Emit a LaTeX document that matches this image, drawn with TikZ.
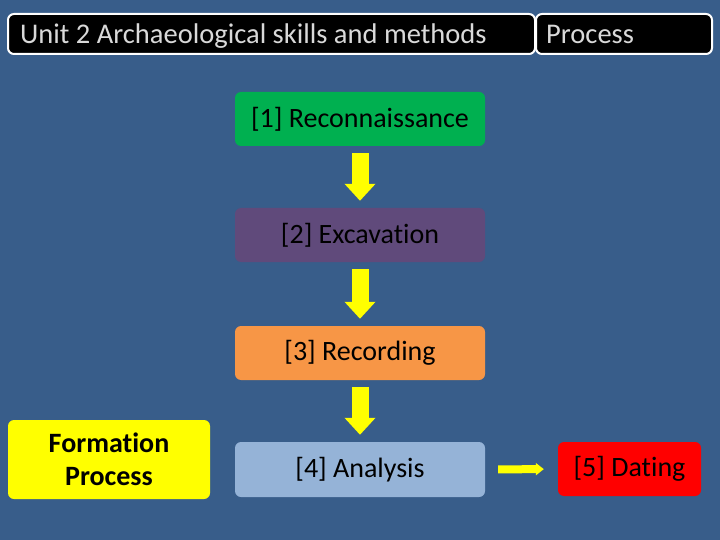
\documentclass[tikz,border=0pt]{standalone}
\usepackage{fontspec}
\setmainfont{Carlito}[Ligatures=NoCommon]
\usetikzlibrary{arrows.meta}
\definecolor{bgblue}{RGB}{56,93,138}
\definecolor{hdrtext}{RGB}{217,217,217}
\definecolor{recgreen}{RGB}{0,176,80}
\definecolor{excpurple}{RGB}{96,74,123}
\definecolor{recorange}{RGB}{247,150,70}
\definecolor{analblue}{RGB}{149,179,215}
\definecolor{arrowyellow}{RGB}{255,255,0}
\tikzset{
  hdr/.style={draw=white, line width=2pt, fill=black, rounded corners=6pt,
    minimum height=40pt, inner sep=0pt},
  hdrtxt/.style={text=hdrtext, font=\fontsize{28.5}{32}\selectfont, anchor=base west, inner sep=0pt},
  stage/.style={rounded corners=6pt, minimum width=250pt, minimum height=54pt,
    font=\fontsize{28}{33}\selectfont, text=black, inner sep=0pt},
  flowdown/.style={arrowyellow, line width=17pt, shorten <=7pt, shorten >=7pt,
    -{Triangle[width=30pt,length=17pt]}},
  flowright/.style={arrowyellow, line width=8pt, shorten <=13pt, shorten >=14pt,
    -{Triangle[width=12pt,length=8pt]}}
}
\begin{document}
\begin{tikzpicture}[x=1pt,y=-1pt]
\fill[bgblue] (0,0) rectangle (720,540);
\useasboundingbox (0,0) rectangle (720,540);
\node[hdr, minimum width=527pt] (title) at (271.5,34) {};
\node[hdr, minimum width=176pt] (proc) at (624,34) {};
\node[hdrtxt] (titletext) at (20,44) {Unit 2 Archaeological skills and methods};
\node[hdrtxt] (proctext) at (546,44) {Process};
\node[stage, fill=recgreen] (rec) at (360,119) {[1] Reconnaissance};
\node[stage, fill=excpurple] (exc) at (360,235) {[2] Excavation};
\node[stage, fill=recorange] (rcd) at (360,353) {[3] Recording};
\node[stage, fill=analblue, minimum height=55pt] (ana) at (360,469.5) {[4] Analysis};
\node[stage, fill=arrowyellow, minimum width=202pt, minimum height=79pt, align=center,
  font=\fontsize{28}{33}\selectfont\bfseries] (form) at (109,459.5) {Formation\\Process};
\node[stage, fill=red, minimum width=143pt] (dat) at (629.5,469) {[5] Dating};
\draw[flowdown] (rec.south) -- (exc.north);
\draw[flowdown] (exc.south) -- (rcd.north);
\draw[flowdown] (rcd.south) -- (ana.north);
\draw[flowright] (ana.east) -- (dat.west);
\end{tikzpicture}
\end{document}
